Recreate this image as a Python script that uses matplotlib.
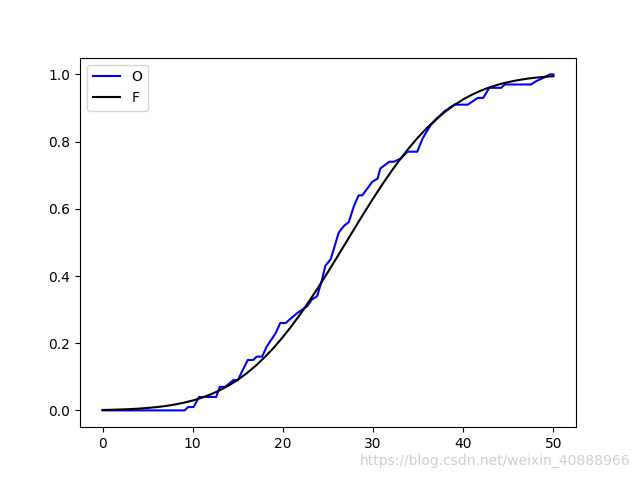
import numpy as np
from matplotlib import pyplot as plt

obs_x = [0, 9.1, 9.5, 10.1, 10.7, 12.6, 13.0, 13.6, 14.5, 15.0, 16.1, 16.7,
         17.1, 17.7, 18.2, 19.2, 19.7, 20.3, 21.6, 22.7, 23.2, 23.8, 24.35,
         24.7, 25.3, 26.2, 26.8, 27.3, 27.9, 28.4, 28.8, 29.9, 30.5, 30.8,
         31.8, 32.3, 33.1, 33.8, 34.9, 35.5, 36.4, 37.9, 39.0, 40.5, 41.6,
         42.2, 42.9, 44.2, 44.6, 47.5, 48.1, 48.9, 49.6, 50.0]
obs_y = [0, 0, 0.01, 0.01, 0.04, 0.04, 0.07, 0.07, 0.09, 0.09, 0.15, 0.15,
         0.16, 0.16, 0.19, 0.23, 0.26, 0.26, 0.29, 0.31, 0.33, 0.34, 0.39,
         0.43, 0.45, 0.53, 0.55, 0.56, 0.61, 0.64, 0.64, 0.68, 0.69, 0.72,
         0.74, 0.74, 0.75, 0.77, 0.77, 0.81, 0.85, 0.89, 0.91, 0.91, 0.93,
         0.93, 0.96, 0.96, 0.97, 0.97, 0.98, 0.99, 1.0, 1.0]

# fitted cumulative curve, sampled at x = 0..50
fit_x = list(range(51))
fit_y = [0.0013, 0.0019, 0.0027, 0.0038, 0.0053, 0.0073, 0.0098, 0.0131,
         0.0174, 0.0228, 0.0294, 0.0377, 0.0478, 0.0599, 0.0743, 0.0912,
         0.1108, 0.1333, 0.1587, 0.1870, 0.2184, 0.2525, 0.2893, 0.3284,
         0.3694, 0.4121, 0.4558, 0.5000, 0.5442, 0.5879, 0.6306, 0.6716,
         0.7107, 0.7475, 0.7816, 0.8130, 0.8413, 0.8667, 0.8892, 0.9088,
         0.9257, 0.9401, 0.9522, 0.9623, 0.9706, 0.9772, 0.9826, 0.9869,
         0.9902, 0.9927, 0.9947]

fig = plt.figure(figsize=(6.4, 4.8), dpi=100)
plt.plot(obs_x, obs_y, 'b-', label='O')
plt.plot(fit_x, fit_y, 'k-', label='F')
plt.legend(loc='upper left')

fig.text(0.985, 0.025, 'https://blog.csdn.net/weixin_40888966', ha='right',
         va='bottom', fontsize=10, color='#d0d0d0')

plt.savefig('out.png')
